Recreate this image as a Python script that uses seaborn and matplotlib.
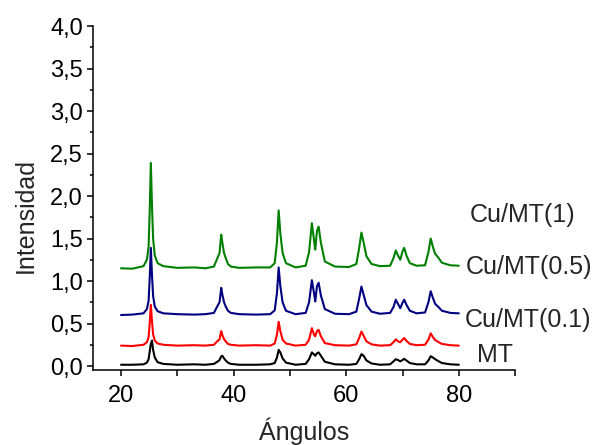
import matplotlib
matplotlib.use("Agg")
import matplotlib.pyplot as plt
from matplotlib.ticker import MultipleLocator
import seaborn as sns
import pandas as pd

# ---- data ----
angles = [20, 22, 24, 24.6, 24.9, 25.1, 25.3, 25.5, 25.7, 26.0, 26.5, 27.5, 30, 33, 35,
          36.5, 37.0, 37.5, 37.8, 38.0, 38.3, 38.6, 39.0, 39.5, 41, 44, 46.5,
          47.3, 47.7, 48.0, 48.3, 48.7, 49.3, 51, 52.8, 53.4, 53.9, 54.3, 54.5, 54.8,
          55.1, 55.5, 56.2, 58, 60.5, 61.8, 62.3, 62.7, 63.1, 63.6, 64.5, 66,
          67.8, 68.4, 68.8, 69.2, 69.6, 70.0, 70.3, 70.7, 71.3, 72.5, 74, 74.6,
          75.0, 75.4, 75.8, 76.3, 77, 78.5, 80]

mt = [0.015, 0.015, 0.02, 0.04, 0.08, 0.17, 0.26, 0.30, 0.19, 0.10, 0.045, 0.025, 0.015, 0.02, 0.015,
      0.025, 0.045, 0.07, 0.115, 0.12, 0.09, 0.065, 0.04, 0.025, 0.015, 0.015, 0.02,
      0.035, 0.10, 0.19, 0.16, 0.09, 0.04, 0.015, 0.025, 0.08, 0.16, 0.135, 0.12, 0.15,
      0.16, 0.12, 0.05, 0.02, 0.015, 0.025, 0.08, 0.14, 0.12, 0.065, 0.03, 0.015,
      0.02, 0.055, 0.08, 0.07, 0.055, 0.07, 0.085, 0.065, 0.035, 0.02, 0.02, 0.065,
      0.115, 0.10, 0.08, 0.06, 0.035, 0.02, 0.015]

cu01 = [0.24, 0.235, 0.25, 0.28, 0.34, 0.505, 0.72, 0.53, 0.375, 0.30, 0.265, 0.25, 0.24, 0.245, 0.24,
        0.25, 0.285, 0.315, 0.41, 0.365, 0.315, 0.29, 0.26, 0.25, 0.24, 0.245, 0.24,
        0.265, 0.37, 0.52, 0.41, 0.31, 0.265, 0.24, 0.25, 0.31, 0.445, 0.365, 0.35, 0.41,
        0.425, 0.35, 0.27, 0.245, 0.24, 0.255, 0.33, 0.405, 0.355, 0.29, 0.255, 0.24,
        0.245, 0.28, 0.315, 0.29, 0.28, 0.31, 0.33, 0.295, 0.26, 0.245, 0.25, 0.31,
        0.385, 0.34, 0.305, 0.285, 0.26, 0.245, 0.24]

cu05 = [0.60, 0.605, 0.62, 0.67, 0.765, 1.035, 1.39, 1.075, 0.825, 0.70, 0.645, 0.62, 0.61, 0.605, 0.61,
        0.625, 0.69, 0.75, 0.92, 0.84, 0.75, 0.70, 0.65, 0.625, 0.61, 0.605, 0.61,
        0.655, 0.86, 1.16, 0.94, 0.75, 0.65, 0.61, 0.625, 0.75, 1.01, 0.85, 0.76, 0.94,
        0.98, 0.83, 0.67, 0.615, 0.61, 0.64, 0.795, 0.935, 0.835, 0.715, 0.64, 0.615,
        0.625, 0.695, 0.78, 0.73, 0.68, 0.745, 0.78, 0.72, 0.65, 0.62, 0.63, 0.75,
        0.88, 0.80, 0.73, 0.70, 0.65, 0.625, 0.62]

cu1 = [1.15, 1.145, 1.175, 1.25, 1.40, 1.83, 2.39, 1.89, 1.50, 1.30, 1.21, 1.175, 1.155, 1.16, 1.15,
       1.17, 1.25, 1.33, 1.545, 1.45, 1.33, 1.27, 1.20, 1.17, 1.155, 1.16, 1.16,
       1.21, 1.46, 1.83, 1.56, 1.33, 1.21, 1.16, 1.18, 1.34, 1.68, 1.47, 1.37, 1.59,
       1.64, 1.45, 1.23, 1.17, 1.165, 1.20, 1.39, 1.57, 1.45, 1.29, 1.20, 1.175,
       1.18, 1.27, 1.36, 1.30, 1.25, 1.35, 1.39, 1.30, 1.21, 1.18, 1.185, 1.34,
       1.50, 1.40, 1.32, 1.28, 1.215, 1.185, 1.18]

samples = ["MT", "Cu/MT(0.1)", "Cu/MT(0.5)", "Cu/MT(1)"]
series = [mt, cu01, cu05, cu1]
colors = ["#000000", "#FF0000", "#000080", "#008000"]
label_x = [83.2, 81.0, 81.3, 82.0]
label_y = [0.13, 0.54, 1.17, 1.78]
x_ticks = [20, 40, 60, 80]
y_ticks = [0.0, 0.5, 1.0, 1.5, 2.0, 2.5, 3.0, 3.5, 4.0]

rows = []
for name, vals in zip(samples, series):
    for a, v in zip(angles, vals):
        rows.append({"angle": a, "intensity": v, "sample": name})
df = pd.DataFrame(rows)

sns.set_style("ticks")
plt.rcParams["font.family"] = ["Liberation Sans", "DejaVu Sans"]

fig = plt.figure(figsize=(5.99, 4.45), dpi=100)
ax = fig.add_axes([0.155, 0.1685, 0.705, 0.773])

sns.lineplot(data=df, x="angle", y="intensity", hue="sample", hue_order=samples,
             palette=colors, estimator=None, sort=False, legend=False,
             linewidth=1.5, ax=ax)

ax.set_xlim(15, 90)
ax.set_ylim(-0.047, 4.0)
ax.set_xticks(x_ticks)
ax.set_xticklabels([str(t) for t in x_ticks])
ax.xaxis.set_minor_locator(MultipleLocator(10))
ax.set_yticks(y_ticks)
ax.set_yticklabels([f"{t:.1f}".replace(".", ",") for t in y_ticks])
ax.yaxis.set_minor_locator(MultipleLocator(0.25))

ax.tick_params(axis="x", which="major", direction="out", length=4, width=1.1,
               labelsize=17, color="black", labelcolor="black", pad=7)
ax.tick_params(axis="y", which="major", direction="out", length=4, width=1.1,
               labelsize=17, color="black", labelcolor="black", pad=3)
ax.tick_params(axis="x", which="minor", direction="out", length=4, width=1.1, color="black")
ax.tick_params(axis="y", which="minor", direction="out", length=2.5, width=1.1, color="black")

for s in ["top", "right"]:
    ax.spines[s].set_visible(False)
for s in ["left", "bottom"]:
    ax.spines[s].set_linewidth(1.1)
    ax.spines[s].set_color("black")

ax.set_xlabel("Ángulos", fontsize=18, labelpad=7)
ax.set_ylabel("Intensidad", fontsize=18)
ax.yaxis.set_label_coords(-0.1295, 0.4506)

for name, lx, ly in zip(samples, label_x, label_y):
    ax.text(lx, ly, name, fontsize=18, ha="left", va="center", clip_on=False)

fig.savefig("out.png", dpi=100)
